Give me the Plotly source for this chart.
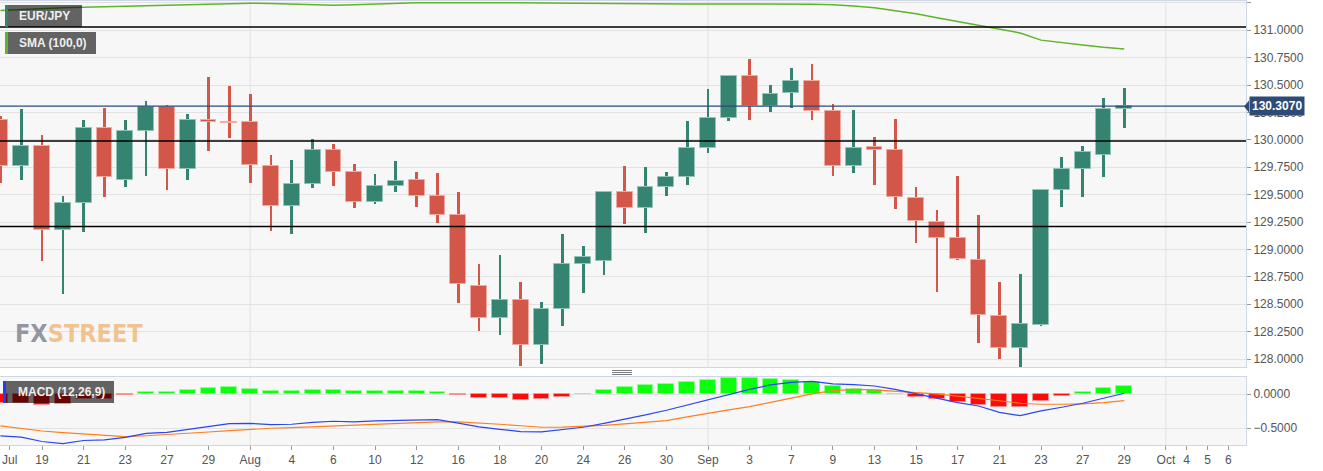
import plotly.graph_objects as go
import pandas as pd

# ---------------- data ----------------
days = [d.strftime("%Y-%m-%d") for d in pd.bdate_range("2021-07-15", "2021-10-06")]  # axis categories
candle_dates = days[:55]

open_ = [130.18, 129.76, 129.94, 129.18, 129.42, 130.11, 129.63, 130.08, 130.30, 129.73,
         130.185, 130.165, 130.16, 129.76, 129.40, 129.60, 129.91, 129.71, 129.43, 129.58,
         129.63, 129.49, 129.31, 128.67, 128.37, 128.54, 128.13, 128.46, 128.87, 128.89,
         129.52, 129.38, 129.57, 129.66, 129.93, 130.20, 130.58, 130.31, 130.43, 130.54,
         130.26, 129.76, 129.935, 129.91, 129.47, 129.25, 129.10, 128.90, 128.39, 128.10,
         128.31, 129.54, 129.73, 129.86, 130.28]
close = [129.76, 129.94, 129.18, 129.42, 130.11, 129.66, 130.08, 130.30, 129.73, 130.18,
         130.165, 130.155, 129.77, 129.40, 129.60, 129.91, 129.71, 129.43, 129.58, 129.62,
         129.49, 129.31, 128.68, 128.37, 128.54, 128.13, 128.46, 128.87, 128.93, 129.52,
         129.38, 129.57, 129.66, 129.93, 130.20, 130.58, 130.31, 130.42, 130.54, 130.26,
         129.76, 129.93, 129.91, 129.48, 129.26, 129.10, 128.91, 128.40, 128.10, 128.32,
         129.54, 129.73, 129.89, 130.28, 130.307]
high = [130.22, 130.28, 130.04, 129.49, 130.18, 130.29, 130.18, 130.35, 130.32, 130.24,
        130.57, 130.49, 130.42, 129.86, 129.82, 130.01, 129.96, 129.78, 129.69, 129.81,
        129.71, 129.70, 129.52, 128.87, 128.95, 128.70, 128.52, 129.14, 129.03, 129.53,
        129.76, 129.75, 129.71, 130.17, 130.46, 130.59, 130.74, 130.50, 130.66, 130.69,
        130.33, 130.27, 130.03, 130.19, 129.57, 129.36, 129.67, 129.31, 128.70, 128.78,
        129.55, 129.84, 129.94, 130.38, 130.47]
low = [129.61, 129.63, 128.89, 128.59, 129.16, 129.48, 129.57, 129.67, 129.54, 129.63,
       129.90, 130.02, 129.61, 129.17, 129.14, 129.56, 129.58, 129.38, 129.41, 129.52,
       129.39, 129.24, 128.51, 128.26, 128.22, 127.94, 127.95, 128.30, 128.60, 128.77,
       129.23, 129.15, 129.49, 129.59, 129.88, 130.17, 130.18, 130.25, 130.29, 130.18,
       129.67, 129.70, 129.59, 129.37, 129.06, 128.61, 128.90, 128.15, 128.00, 127.93,
       128.30, 129.39, 129.48, 129.66, 130.11]

sma100 = [131.18, 131.19, 131.20, 131.205, 131.21, 131.215, 131.22, 131.225, 131.23, 131.235,
          131.24, 131.245, 131.247, 131.245, 131.238, 131.232, 131.228, 131.232, 131.24, 131.246,
          131.25, 131.252, 131.253, 131.253, 131.252, 131.25, 131.248, 131.246, 131.245, 131.244,
          131.243, 131.242, 131.241, 131.24, 131.24, 131.24, 131.24, 131.24, 131.24, 131.238,
          131.232, 131.222, 131.205, 131.18, 131.15, 131.115, 131.08, 131.045, 131.01, 130.975,
          130.91, 130.885, 130.865, 130.845, 130.83]

macd_hist = [-0.13, -0.13, -0.157, -0.147, -0.074, -0.064, -0.015, 0.034, 0.034, 0.064,
             0.088, 0.103, 0.083, 0.049, 0.044, 0.064, 0.064, 0.049, 0.049, 0.049,
             0.049, 0.034, -0.01, -0.059, -0.059, -0.088, -0.074, -0.034, 0.005, 0.064,
             0.103, 0.132, 0.15, 0.176, 0.206, 0.24, 0.235, 0.225, 0.216, 0.181,
             0.122, 0.083, 0.064, 0.005, -0.034, -0.069, -0.108, -0.152, -0.186, -0.191,
             -0.098, -0.029, 0.034, 0.093, 0.127]
macd_line = [-0.613, -0.63, -0.695, -0.725, -0.68, -0.67, -0.635, -0.575, -0.56, -0.515,
             -0.476, -0.432, -0.427, -0.446, -0.441, -0.412, -0.397, -0.405, -0.392, -0.382,
             -0.373, -0.373, -0.425, -0.48, -0.515, -0.549, -0.554, -0.525, -0.485, -0.427,
             -0.368, -0.304, -0.235, -0.157, -0.074, 0.005, 0.073, 0.137, 0.176, 0.191,
             0.152, 0.142, 0.122, 0.073, 0.005, -0.064, -0.123, -0.172, -0.265, -0.314,
             -0.245, -0.191, -0.132, -0.059, 0.015]
signal_line = [-0.466, -0.505, -0.54, -0.565, -0.584, -0.605, -0.623, -0.61, -0.595, -0.575,
               -0.555, -0.535, -0.515, -0.50, -0.49, -0.478, -0.466, -0.453, -0.441, -0.43,
               -0.417, -0.407, -0.407, -0.42, -0.441, -0.463, -0.485, -0.483, -0.476, -0.458,
               -0.436, -0.41, -0.388, -0.333, -0.279, -0.23, -0.182, -0.12, -0.059, 0.005,
               0.054, 0.073, 0.064, 0.049, 0.024, 0.005, -0.025, -0.059, -0.095, -0.132,
               -0.147, -0.147, -0.142, -0.123, -0.093]

levels_black = [131.03, 129.99, 129.21]
last_price = 130.307

tick_dates = ["2021-07-15", "2021-07-19", "2021-07-21", "2021-07-23", "2021-07-27", "2021-07-29",
              "2021-08-02", "2021-08-04", "2021-08-06", "2021-08-10", "2021-08-12", "2021-08-16",
              "2021-08-18", "2021-08-20", "2021-08-24", "2021-08-26", "2021-08-30", "2021-09-01",
              "2021-09-03", "2021-09-07", "2021-09-09", "2021-09-13", "2021-09-15", "2021-09-17",
              "2021-09-21", "2021-09-23", "2021-09-27", "2021-09-29", "2021-10-01", "2021-10-04",
              "2021-10-05", "2021-10-06"]
tick_labels = ["Jul", "19", "21", "23", "27", "29", "Aug", "4", "6", "10", "12", "16", "18", "20",
               "24", "26", "30", "Sep", "3", "7", "9", "13", "15", "17", "21", "23", "27", "29",
               "Oct", "4", "5", "6"]
month_starts = ["2021-08-02", "2021-09-01", "2021-10-01"]

# ---------------- geometry ----------------
W, H = 1323, 471
ML, MR, MT, MB = 0, 77, 1, 26
PW = W - ML - MR
PH = H - MT - MB


def px(x):
    return (x - ML) / PW


def py(y):
    return (H - MB - y) / PH


pos = {d: i for i, d in enumerate(days)}
xs = [pos[d] for d in candle_dates]
# the first (clipped) month label is nudged inside the plot edge so it stays readable
tick_pos = [pos[d] for d in tick_dates]
tick_pos[0] = tick_pos[0] + 0.45

GREEN, RED = "#348471", "#d35748"
GREEN_EDGE, RED_EDGE = "#93c4b7", "#f0aaa1"
up = [c >= o for o, c in zip(open_, close)]
body_col = [GREEN if u else RED for u in up]
edge_col = [GREEN_EDGE if u else RED_EDGE for u in up]

fig = go.Figure()

# wicks
fig.add_trace(go.Bar(x=xs, y=[h - l for h, l in zip(high, low)], base=low, width=0.13,
                     marker=dict(color=body_col, line=dict(width=0)),
                     xaxis="x", yaxis="y", showlegend=False, hoverinfo="skip"))
# bodies
fig.add_trace(go.Bar(x=xs, y=[max(abs(c - o), 0.012) for o, c in zip(open_, close)],
                     base=[min(o, c) for o, c in zip(open_, close)], width=0.76,
                     marker=dict(color=body_col, line=dict(width=1, color=edge_col)),
                     xaxis="x", yaxis="y", showlegend=False))
# SMA
fig.add_trace(go.Scatter(x=xs, y=sma100, mode="lines", line=dict(color="#5db52a", width=1.5),
                         xaxis="x", yaxis="y", showlegend=False))

# MACD histogram
h_col = ["#0cff0c" if v >= 0 else "#ff0a0a" for v in macd_hist]
h_edge = ["#8dff8d" if v >= 0 else "#ff9090" for v in macd_hist]
fig.add_trace(go.Bar(x=xs, y=macd_hist, width=0.76,
                     marker=dict(color=h_col, line=dict(width=1, color=h_edge)),
                     xaxis="x2", yaxis="y2", showlegend=False))
fig.add_trace(go.Scatter(x=xs, y=signal_line, mode="lines", line=dict(color="#ff7f1e", width=1.2),
                         xaxis="x2", yaxis="y2", showlegend=False))
fig.add_trace(go.Scatter(x=xs, y=macd_line, mode="lines", line=dict(color="#2a46f0", width=1.2),
                         xaxis="x2", yaxis="y2", showlegend=False))

xrange = [-0.02, 59.85]
axis_line = "#cfd6e6"
tickfont = dict(family="Arial, Liberation Sans, sans-serif", size=12, color="#555555")
main_dom = [py(367), 1.0]
macd_dom = [0.0, py(377)]

fig.update_layout(
    width=W, height=H,
    margin=dict(l=ML, r=MR, t=MT, b=MB, autoexpand=False),
    paper_bgcolor="white", plot_bgcolor="#f7f7f7",
    barmode="overlay", bargap=0,
    font=tickfont,
    xaxis=dict(domain=[0, 1], range=xrange, anchor="y", showticklabels=False, ticks="",
               showgrid=False, zeroline=False, showline=True, mirror=True,
               linecolor=axis_line, linewidth=1),
    xaxis2=dict(domain=[0, 1], range=xrange, anchor="y2", matches="x",
                tickmode="array", tickvals=tick_pos, ticktext=tick_labels,
                ticks="outside", ticklen=4, tickcolor="#999999", tickfont=tickfont,
                ticklabeloverflow="allow",
                showgrid=False, zeroline=False, showline=True, mirror=True,
                linecolor=axis_line, linewidth=1),
    yaxis=dict(domain=main_dom, range=[127.927, 131.267], side="right",
               tickmode="linear", tick0=128, dtick=0.25, tickformat=".4f",
               ticks="outside", ticklen=4, tickcolor="#999999", tickfont=tickfont,
               showgrid=True, gridcolor="#e2e2e2", gridwidth=1, zeroline=False,
               showline=True, mirror=True, linecolor=axis_line, linewidth=1),
    yaxis2=dict(domain=macd_dom, range=[-0.746, 0.254], side="right",
                tickmode="array", tickvals=[0, -0.5], tickformat=".4f",
                ticks="outside", ticklen=4, tickcolor="#999999", tickfont=tickfont,
                showgrid=True, gridcolor="#e2e2e2", gridwidth=1, zeroline=False,
                showline=True, mirror=True, linecolor=axis_line, linewidth=1),
)

shapes = []
# month separators
for d in month_starts:
    for yr in ["y domain", "y2 domain"]:
        shapes.append(dict(type="line", xref="x", yref=yr, x0=pos[d], x1=pos[d], y0=0, y1=1,
                           line=dict(color="#e2e2e2", width=1), layer="below"))
# level lines
for lv in levels_black:
    shapes.append(dict(type="line", xref="x domain", yref="y", x0=0, x1=1, y0=lv, y1=lv,
                       line=dict(color="#000000", width=1.5), layer="above"))
shapes.append(dict(type="line", xref="x domain", yref="y", x0=0, x1=1, y0=last_price, y1=last_price,
                   line=dict(color="#2b4b78", width=1.2), layer="above"))


def box(x0, y0, x1, y1, fill):
    return dict(type="rect", xref="paper", yref="paper", x0=px(x0), x1=px(x1), y0=py(y1), y1=py(y0),
                fillcolor=fill, line=dict(width=0), layer="above")


# legend boxes
shapes.append(box(5, 5, 82, 27, "rgba(0,0,0,0.6)"))
shapes.append(box(5, 5, 8, 27, "#348471"))
shapes.append(box(5, 32, 96, 54, "rgba(0,0,0,0.6)"))
shapes.append(box(5, 32, 8, 54, "#5db52a"))
shapes.append(box(3, 381, 114, 403, "rgba(0,0,0,0.6)"))
shapes.append(box(3, 381, 6, 403, "#1d3cff"))
# price label arrow
shapes.append(dict(type="path", xref="paper", yref="paper",
                   path="M %f,%f L %f,%f L %f,%f Z" % (px(1244), py(106.5), px(1249), py(100.5),
                                                      px(1249), py(112.5)),
                   fillcolor="#2d4b75", line=dict(width=0), layer="above"))
# pane drag handle
for yy in [370.5, 372.5, 374.5]:
    shapes.append(dict(type="line", xref="paper", yref="paper", x0=px(612), x1=px(632),
                       y0=py(yy), y1=py(yy), line=dict(color="#7a7a7a", width=1)))
fig.update_layout(shapes=shapes)

lab_font = dict(family="Arial, Liberation Sans, sans-serif", size=12, color="#eeeeee")
annotations = [
    dict(xref="paper", yref="paper", x=px(17), y=py(16), xanchor="left", yanchor="middle",
         text="<b>EUR/JPY</b>", showarrow=False, font=lab_font),
    dict(xref="paper", yref="paper", x=px(17), y=py(43), xanchor="left", yanchor="middle",
         text="<b>SMA (100,0)</b>", showarrow=False, font=lab_font),
    dict(xref="paper", yref="paper", x=px(16), y=py(392), xanchor="left", yanchor="middle",
         text="<b>MACD (12,26,9)</b>", showarrow=False, font=lab_font),
    dict(xref="paper", yref="y", x=px(1249), y=last_price, xanchor="left", yanchor="middle",
         text="<b>%.4f</b>" % last_price, showarrow=False, bgcolor="#2d4b75", borderpad=2,
         font=dict(family="Arial, Liberation Sans, sans-serif", size=12, color="#ffffff")),
    dict(xref="paper", yref="paper", x=px(13), y=py(333), xanchor="left", yanchor="middle",
         text='<b><span style="color:rgba(130,134,148,0.85)">FX</span>'
              '<span style="color:rgba(240,178,110,0.75)">STREET</span></b>',
         showarrow=False,
         font=dict(family="Liberation Sans Narrow, DejaVu Sans Condensed, Arial Narrow, sans-serif",
                   size=25)),
]
fig.update_layout(annotations=annotations)

fig.write_html("out.html")
